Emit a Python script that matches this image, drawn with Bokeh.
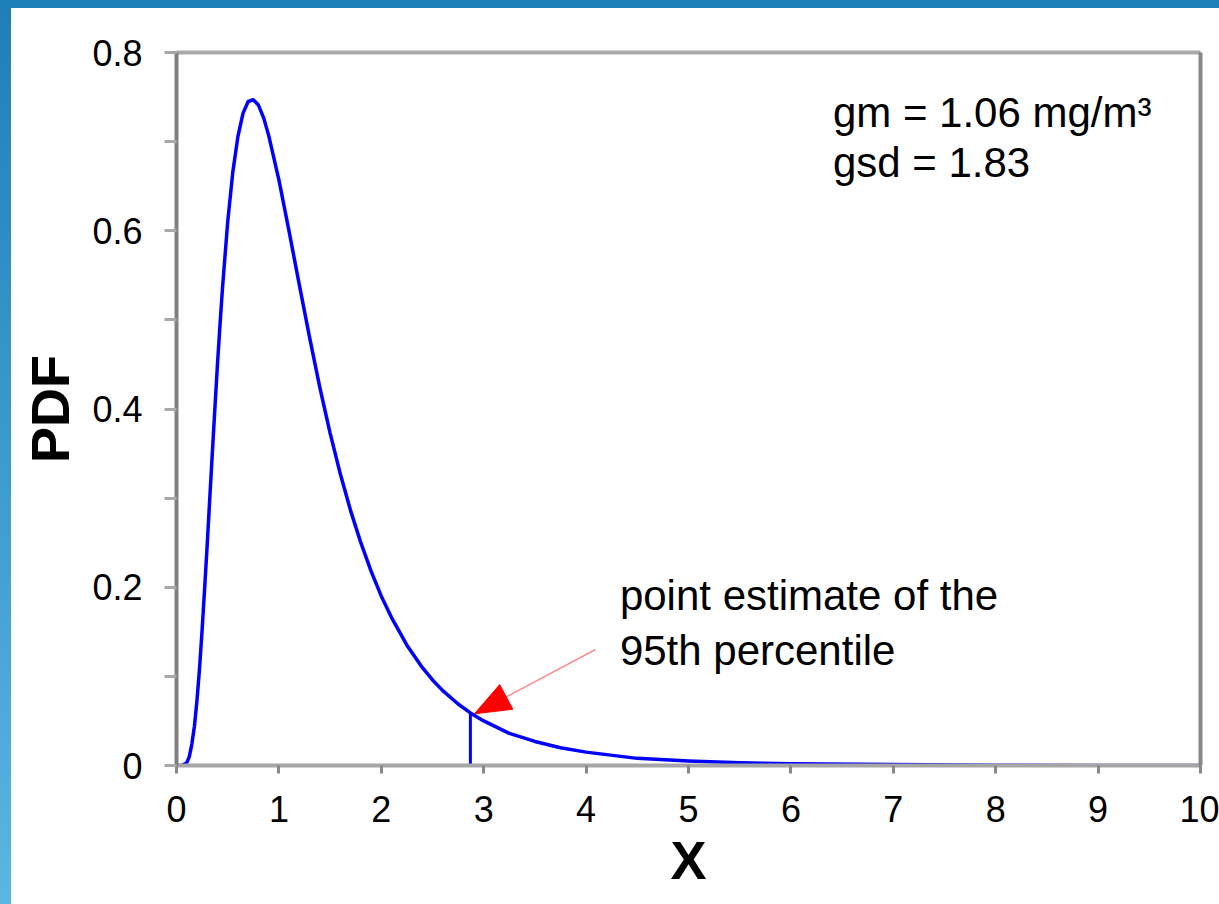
import math
from bokeh.plotting import figure
from bokeh.models import (Range1d, FixedTicker, LinearAxis, Label, Div,
                          ColumnDataSource)
from bokeh.layouts import row, column
from bokeh.embed import file_html
from bokeh.resources import INLINE

# ---- data ----
x_vals = [0.0, 0.05, 0.1, 0.125, 0.15, 0.175, 0.2, 0.225, 0.25, 0.275, 0.3,
          0.325, 0.35, 0.375, 0.4, 0.425, 0.45, 0.5, 0.55, 0.6, 0.65, 0.7,
          0.75, 0.8, 0.85, 0.9, 1.0, 1.1, 1.2, 1.3, 1.4, 1.5, 1.6, 1.7, 1.8,
          1.9, 2.0, 2.1, 2.25, 2.4, 2.5, 2.6, 2.75, 2.87, 3.0, 3.25, 3.5,
          3.75, 4.0, 4.5, 5.0, 5.5, 6.0, 7.0, 8.0, 9.0, 10.0]
pdf_vals = [0.0, 0.0, 0.003, 0.010, 0.024, 0.044, 0.073, 0.109, 0.152, 0.199,
            0.248, 0.300, 0.351, 0.401, 0.450, 0.495, 0.537, 0.610, 0.666,
            0.706, 0.732, 0.745, 0.747, 0.741, 0.727, 0.707, 0.657, 0.599,
            0.539, 0.480, 0.424, 0.373, 0.327, 0.286, 0.250, 0.218, 0.190,
            0.166, 0.135, 0.110, 0.096, 0.084, 0.069, 0.059, 0.050, 0.036,
            0.027, 0.020, 0.015, 0.008, 0.005, 0.003, 0.002, 0.001, 0.0003,
            0.0001, 0.0]

p95_x = 2.87
p95_y = 0.059

x_ticks = [0, 1, 2, 3, 4, 5, 6, 7, 8, 9, 10]
x_tick_labels = ["0", "1", "2", "3", "4", "5", "6", "7", "8", "9", "10"]
y_ticks = [0, 0.2, 0.4, 0.6, 0.8]
y_minor_ticks = [0.1, 0.3, 0.5, 0.7]
y_tick_labels = ["0", "0.2", "0.4", "0.6", "0.8"]

stats_lines = ["gm = 1.06 mg/m\u00b3", "gsd = 1.83"]
note_lines = ["point estimate of the", "95th percentile"]

# arrow annotation (data units)
arrow_tail = (4.09, 0.130)
arrow_tip = (2.91, 0.058)

FONT = "Liberation Sans"
X0, X1, Y0, Y1 = 0, 10, 0, 0.8
FRAME_W, FRAME_H = 1024, 713

p = figure(width=1208, height=896, output_backend="svg", toolbar_location=None,
           x_range=Range1d(X0, X1), y_range=Range1d(Y0, Y1),
           min_border_left=165, min_border_right=19, min_border_top=44,
           min_border_bottom=139)
p.outline_line_color = None
p.grid.visible = False
p.background_fill_color = "white"
p.border_fill_color = "white"

# x axis
xa = p.xaxis[0]
xa.ticker = FixedTicker(ticks=x_ticks)
xa.major_label_overrides = {t: l for t, l in zip(x_ticks, x_tick_labels)}
xa.axis_label = "X"
xa.axis_label_text_font = FONT
xa.axis_label_text_font_style = "bold"
xa.axis_label_text_font_size = "54px"
xa.axis_label_text_color = "black"
xa.axis_label_standoff = 5
xa.major_label_text_font = FONT
xa.major_label_text_font_size = "36px"
xa.major_label_text_color = "black"
xa.major_label_standoff = 22
xa.axis_line_color = "#a6a6a6"
xa.axis_line_width = 4
xa.major_tick_line_color = "#888888"
xa.major_tick_line_width = 3
xa.major_tick_out = 8
xa.major_tick_in = 0
xa.minor_tick_line_color = None

# y axis
ya = p.yaxis[0]
ya.ticker = FixedTicker(ticks=y_ticks, minor_ticks=y_minor_ticks)
ya.major_label_overrides = {t: l for t, l in zip(y_ticks, y_tick_labels)}
ya.axis_label = "PDF"
ya.axis_label_text_font = FONT
ya.axis_label_text_font_style = "bold"
ya.axis_label_text_font_size = "54px"
ya.axis_label_text_color = "black"
ya.axis_label_standoff = 9
ya.major_label_text_font = FONT
ya.major_label_text_font_size = "36px"
ya.major_label_text_color = "black"
ya.major_label_standoff = 22
ya.axis_line_color = "#808080"
ya.axis_line_width = 4
ya.major_tick_line_color = "#a8a8a8"
ya.major_tick_line_width = 3
ya.major_tick_out = 12
ya.major_tick_in = 0
ya.minor_tick_line_color = "#a8a8a8"
ya.minor_tick_line_width = 3
ya.minor_tick_out = 12
ya.minor_tick_in = 0

# frame lines on top and right
for loc, col in (("above", "#aaaaaa"), ("right", "#888888")):
    ax = LinearAxis(ticker=FixedTicker(ticks=[]), axis_line_color=col,
                    axis_line_width=4, major_tick_line_color=None,
                    minor_tick_line_color=None, major_label_text_font_size="0px")
    p.add_layout(ax, loc)

# curve
src = ColumnDataSource(data=dict(x=x_vals, y=pdf_vals))
p.line("x", "y", source=src, line_color="#0000ff", line_width=3.5,
       line_join="round")

# 95th percentile marker
p.segment(x0=[p95_x], y0=[0], x1=[p95_x], y1=[p95_y], line_color="#0000ff",
          line_width=3)

# arrow: shaft + triangular head built in pixel space, converted to data units
sx = FRAME_W / (X1 - X0)
sy = FRAME_H / (Y1 - Y0)
tx, ty = arrow_tail[0] * sx, arrow_tail[1] * sy
hx, hy = arrow_tip[0] * sx, arrow_tip[1] * sy
L = math.hypot(tx - hx, ty - hy)
ux, uy = (tx - hx) / L, (ty - hy) / L
head_len, head_half = 36, 14
bx, by = hx + ux * head_len, hy + uy * head_len
px_, py_ = -uy, ux
head_x = [hx / sx, (bx + px_ * head_half) / sx, (bx - px_ * head_half) / sx]
head_y = [hy / sy, (by + py_ * head_half) / sy, (by - py_ * head_half) / sy]
p.segment(x0=[arrow_tail[0]], y0=[arrow_tail[1]], x1=[bx / sx], y1=[by / sy],
          line_color="#ff8080", line_width=1.5)
p.patch(head_x, head_y, fill_color="#ff0000", line_color="#ff0000",
        line_width=1)

# texts
for i, t in enumerate(stats_lines):
    p.add_layout(Label(x=6.41, y=0.733 - i * 0.056, text=t, text_font=FONT,
                       text_font_size="42px", text_color="black",
                       text_baseline="alphabetic", text_align="left"))
for i, t in enumerate(note_lines):
    p.add_layout(Label(x=4.33, y=0.191 - i * 0.062, text=t, text_font=FONT,
                       text_font_size="42px", text_color="black",
                       text_baseline="alphabetic", text_align="left"))

left_strip = Div(text="", width=11, height=904, margin=0,
                 styles={"background": "linear-gradient(#1e7fb8, #5ab6e2)"})
top_strip = Div(text="", width=1208, height=8, margin=0,
                styles={"background": "#1f80b9"})
p.margin = 0
layout = row(left_strip, column(top_strip, p, spacing=0), spacing=0)

open("out.html", "w").write(file_html(layout, INLINE))
